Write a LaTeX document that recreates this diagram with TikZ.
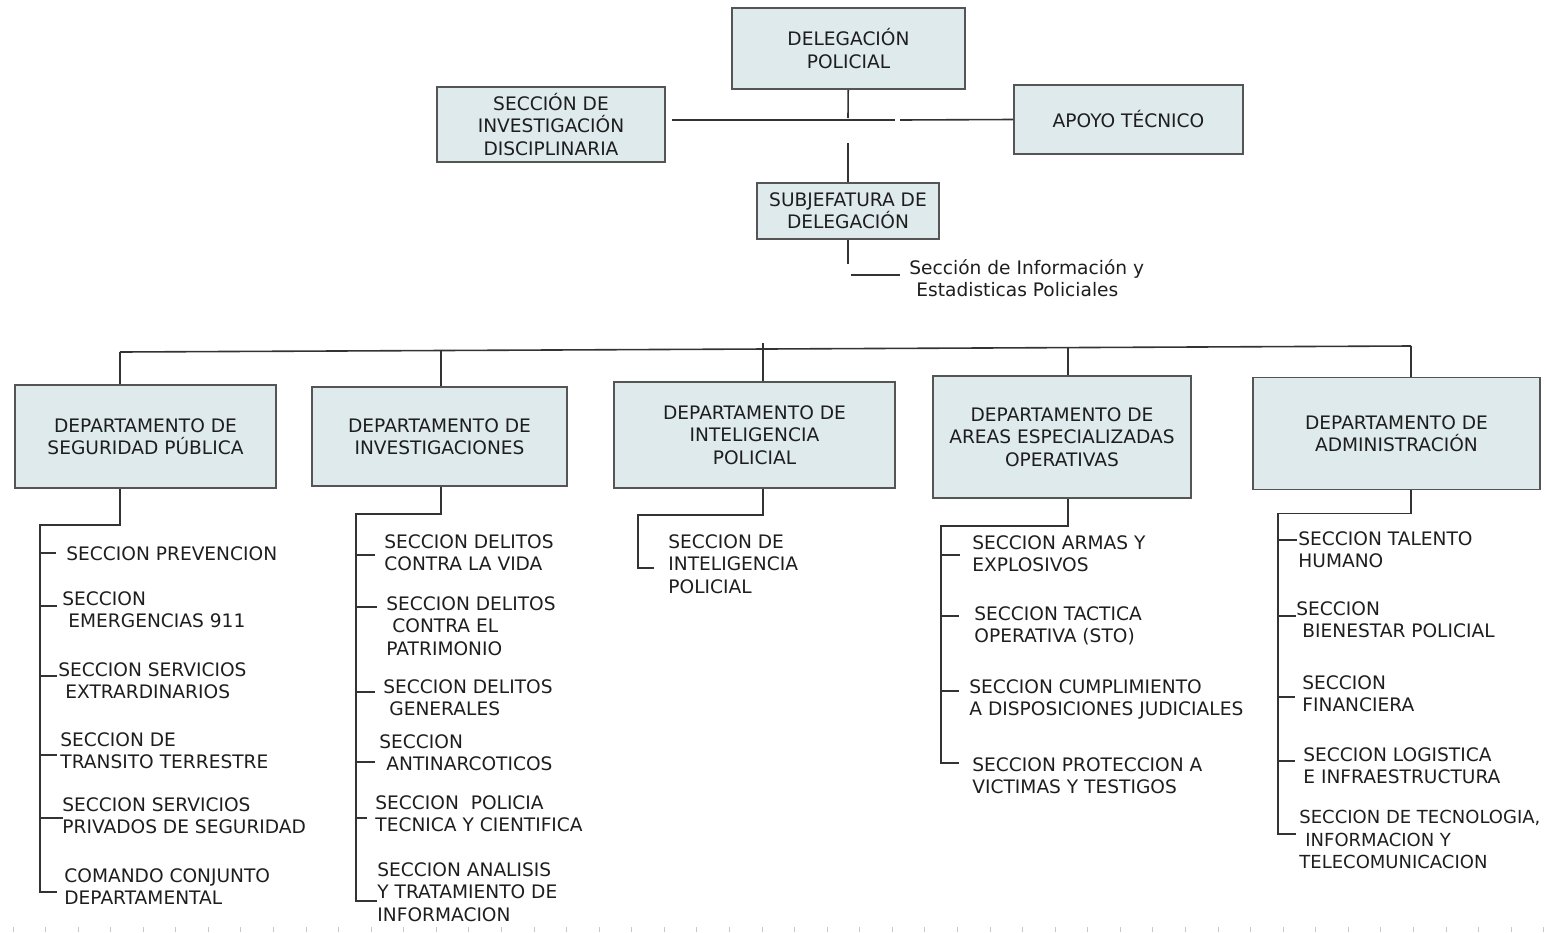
\documentclass[tikz,border=0pt]{standalone}
\usepackage{fontspec}
\setmainfont{DejaVu Sans}

\definecolor{boxfill}{HTML}{DFEAED}
\definecolor{boxline}{HTML}{555555}
\definecolor{ink}{HTML}{1E1E1E}

\tikzset{
    unit/.style={draw=boxline, fill=boxfill, line width=0.9pt, align=center, inner sep=0pt, text=ink},
    sec/.style={anchor=north west, inner sep=0pt, align=left, text=ink},
    link/.style={draw=black!80, line width=0.8pt},
    ruler/.style={draw=gray!45, line width=0.5pt},
}

\begin{document}
\begin{tikzpicture}[x=0.5pt, y=-0.5pt, font=\fontsize{9.3}{11.2}\selectfont]
    \useasboundingbox (0,0) rectangle (1546,932);

    % top
    \node [unit, minimum width=116.5pt, minimum height=40.5pt] (deleg) at (848.5,48.5) {DELEGACIÓN\\POLICIAL};
    \node [unit, minimum width=114pt, minimum height=37.5pt] (disc) at (551,124.5) {SECCIÓN DE\\INVESTIGACIÓN\\DISCIPLINARIA};
    \node [unit, minimum width=114.5pt, minimum height=34.5pt] (apoyo) at (1128.5,119.5) {APOYO TÉCNICO};
    \node [unit, minimum width=91pt, minimum height=28pt] (subj) at (848,211) {SUBJEFATURA DE\\DELEGACIÓN};
    \node [sec] (info) at (909,259) {Sección de Información y\\\hspace*{3.5pt}Estadisticas Policiales};

    \coordinate (hub) at (848,118);
    \coordinate (hubL) at (672,120);
    \coordinate (hubR) at (900,120);
    \coordinate (hubS) at (848,143);
    \coordinate (infoL) at (851,275);
    \draw [link] (deleg) -- (hub);
    \draw [link] (hubL) -- (895,120);
    \draw [link] (hubR) -- (apoyo.west);
    \draw [link] (hubS) -- (subj.north);
    \draw [link] (subj.south) -- ++(0,24);
    \draw [link] (infoL) -- ++(49,0);

    % departments
    \node [unit, minimum width=130.5pt, minimum height=51.5pt] (dep1) at (145.5,436.5) {DEPARTAMENTO DE\\SEGURIDAD PÚBLICA};
    \node [unit, minimum width=127.5pt, minimum height=49.5pt] (dep2) at (439.5,436.5) {DEPARTAMENTO DE\\INVESTIGACIONES};
    \node [unit, minimum width=140.5pt, minimum height=53pt] (dep3) at (754.5,435) {DEPARTAMENTO DE\\INTELIGENCIA\\POLICIAL};
    \node [unit, minimum width=129pt, minimum height=61pt] (dep4) at (1062,437) {DEPARTAMENTO DE\\AREAS ESPECIALIZADAS\\OPERATIVAS};
    \node [unit, minimum width=143.5pt, minimum height=56pt] (dep5) at (1396.5,433.5) {DEPARTAMENTO DE\\ADMINISTRACIÓN};

    \coordinate (b1) at (120,352);
    \coordinate (b2) at (441,350.5);
    \coordinate (b3) at (763,349);
    \coordinate (b4) at (1068,347.5);
    \coordinate (b5) at (1411,346);
    \draw [link] (b1) -- (b5);
    \draw [link] (b1) -- (b1 |- dep1.north);
    \draw [link] (b2) -- (b2 |- dep2.north);
    \draw [link] (763,343) -- (b3 |- dep3.north);
    \draw [link] (b4) -- (b4 |- dep4.north);
    \draw [link] (b5) -- (b5 |- dep5.north);

    % seguridad publica
    \draw [link] (b1 |- dep1.south) -- ++(0,36) -| (40,892) -- ++(17,0);
    \draw [link] (40,553) -- ++(16,0);
    \draw [link] (40,606) -- ++(17,0);
    \draw [link] (40,676) -- ++(17,0);
    \draw [link] (40,755) -- ++(17,0);
    \draw [link] (40,818) -- ++(23,0);
    \node [sec] (s11) at (66,546) {SECCION PREVENCION};
    \node [sec] (s12) at (62,591) {SECCION\\\hspace*{3pt}EMERGENCIAS 911};
    \node [sec] (s13) at (58,662) {SECCION SERVICIOS\\\hspace*{3.5pt}EXTRARDINARIOS};
    \node [sec] (s14) at (60,732) {SECCION DE\\TRANSITO TERRESTRE};
    \node [sec] (s15) at (62,797) {SECCION SERVICIOS\\PRIVADOS DE SEGURIDAD};
    \node [sec] (s16) at (64,868) {COMANDO CONJUNTO\\DEPARTAMENTAL};

    % investigaciones
    \draw [link] (b2 |- dep2.south) -- ++(0,27) -| (356,901) -- ++(21,0);
    \draw [link] (356,555) -- ++(19,0);
    \draw [link] (356,607) -- ++(21,0);
    \draw [link] (356,692) -- ++(19,0);
    \draw [link] (356,762) -- ++(19,0);
    \draw [link] (356,818) -- ++(11,0);
    \node [sec] (s21) at (384,534) {SECCION DELITOS\\CONTRA LA VIDA};
    \node [sec] (s22) at (386,596) {SECCION DELITOS\\\hspace*{3pt}CONTRA EL\\PATRIMONIO};
    \node [sec] (s23) at (383,679) {SECCION DELITOS\\\hspace*{3pt}GENERALES};
    \node [sec] (s24) at (379,734) {SECCION\\\hspace*{3.5pt}ANTINARCOTICOS};
    \node [sec] (s25) at (375,795) {SECCION\ \ POLICIA\\TECNICA Y CIENTIFICA};
    \node [sec] (s26) at (377,862) {SECCION ANALISIS\\Y TRATAMIENTO DE\\INFORMACION};

    % inteligencia
    \draw [link] (b3 |- dep3.south) -- ++(0,26) -| (638,568) -- ++(16,0);
    \node [sec] (s31) at (668,534) {SECCION DE\\INTELIGENCIA\\POLICIAL};

    % areas especializadas
    \draw [link] (b4 |- dep4.south) -- ++(0,27) -| (941,763) -- ++(18,0);
    \draw [link] (941,555) -- ++(19,0);
    \draw [link] (941,616) -- ++(18,0);
    \draw [link] (941,691) -- ++(18,0);
    \node [sec] (s41) at (972,535) {SECCION ARMAS Y\\EXPLOSIVOS};
    \node [sec] (s42) at (974,606) {SECCION TACTICA\\OPERATIVA (STO)};
    \node [sec] (s43) at (969,679) {SECCION CUMPLIMIENTO\\A DISPOSICIONES JUDICIALES};
    \node [sec] (s44) at (972,757) {SECCION PROTECCION A\\VICTIMAS Y TESTIGOS};

    % administracion
    \draw [link] (b5 |- dep5.south) -- ++(0,23) -| (1278,834) -- ++(18,0);
    \draw [link] (1278,540) -- ++(19,0);
    \draw [link] (1278,616) -- ++(18,0);
    \draw [link] (1278,697) -- ++(17,0);
    \draw [link] (1278,761) -- ++(17,0);
    \node [sec] (s51) at (1298,531) {SECCION TALENTO\\HUMANO};
    \node [sec] (s52) at (1296,601) {SECCION\\\hspace*{3pt}BIENESTAR POLICIAL};
    \node [sec] (s53) at (1302,675) {SECCION\\FINANCIERA};
    \node [sec] (s54) at (1303,747) {SECCION LOGISTICA\\E INFRAESTRUCTURA};
    \node [sec, font=\fontsize{9}{11.2}\selectfont] (s55) at (1299,810) {SECCION DE TECNOLOGIA,\\\hspace*{3pt}INFORMACION Y\\TELECOMUNICACION};

    % ruler
    \foreach \k in {0,...,47}
        \draw [ruler] (13+32.57*\k,927) -- ++(0,5);
\end{tikzpicture}
\end{document}
